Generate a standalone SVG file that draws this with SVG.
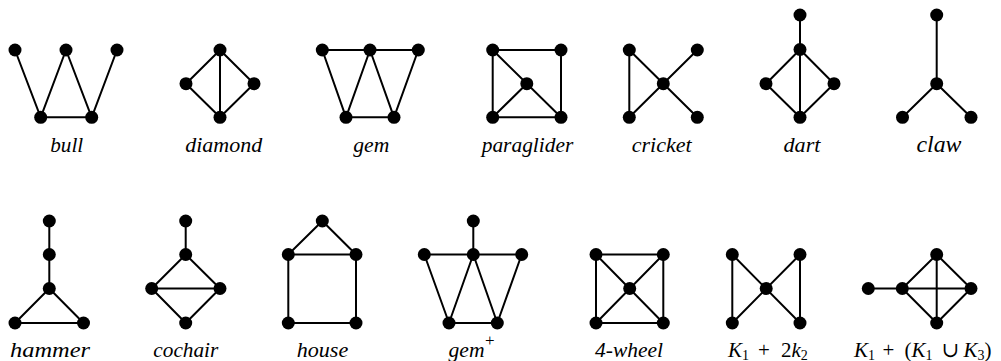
<svg xmlns="http://www.w3.org/2000/svg" width="1001" height="361" viewBox="0 0 1001 361">
<style>
.e{stroke:#000;stroke-width:2;fill:none;stroke-linecap:round;stroke-linejoin:round}
.v{fill:#000}
.lb{font-family:"Liberation Serif","DejaVu Serif",serif;font-style:italic;font-size:21px;fill:#000;text-anchor:middle}
.m{font-family:"Liberation Serif","DejaVu Serif",serif;font-size:21px;fill:#000}
.mi{font-style:italic}
.sb{font-size:14px}
</style>
<rect width="1001" height="361" fill="#fff"/>

<g id="bull">
<g class="e"><path d="M15 50L40.7 117.3L66 50L91.7 117.3L117 50M40.7 117.3H91.7"/></g>
<g class="v"><circle cx="15" cy="50" r="6.5"/><circle cx="66" cy="50" r="6.5"/><circle cx="117" cy="50" r="6.5"/><circle cx="40.7" cy="117.3" r="6.5"/><circle cx="91.7" cy="117.3" r="6.5"/></g>
<text class="lb" x="66.7" y="151.5" textLength="33" lengthAdjust="spacingAndGlyphs">bull</text>
</g>

<g id="diamond">
<g class="e"><path d="M220 50L186 83.7L220 117.3L254 83.7ZM220 50V117.3"/></g>
<g class="v"><circle cx="220" cy="50" r="6.5"/><circle cx="186" cy="83.7" r="6.5"/><circle cx="254" cy="83.7" r="6.5"/><circle cx="220" cy="117.3" r="6.5"/></g>
<text class="lb" x="223.7" y="151.5" textLength="77" lengthAdjust="spacingAndGlyphs">diamond</text>
</g>

<g id="gem">
<g class="e"><path d="M322.3 50H418.3L394 117.3H346ZM370 50L346 117.3M370 50L394 117.3"/></g>
<g class="v"><circle cx="322.3" cy="50" r="6.5"/><circle cx="370" cy="50" r="6.5"/><circle cx="418.3" cy="50" r="6.5"/><circle cx="346" cy="117.3" r="6.5"/><circle cx="394" cy="117.3" r="6.5"/></g>
<text class="lb" x="371.3" y="151.5" textLength="36" lengthAdjust="spacingAndGlyphs">gem</text>
</g>

<g id="paraglider">
<g class="e"><path d="M492.7 50H561V117.3H492.7ZM492.7 50L561 117.3M492.7 117.3L526.8 83.7"/></g>
<g class="v"><circle cx="492.7" cy="50" r="6.5"/><circle cx="561" cy="50" r="6.5"/><circle cx="526.8" cy="83.7" r="6.5"/><circle cx="492.7" cy="117.3" r="6.5"/><circle cx="561" cy="117.3" r="6.5"/></g>
<text class="lb" x="527.5" y="151.5" textLength="91.6" lengthAdjust="spacingAndGlyphs">paraglider</text>
</g>

<g id="cricket">
<g class="e"><path d="M629.3 50V117.3L697.3 50M629.3 50L697.3 117.3"/></g>
<g class="v"><circle cx="629.3" cy="50" r="6.5"/><circle cx="697.3" cy="50" r="6.5"/><circle cx="663.3" cy="83.7" r="6.5"/><circle cx="629.3" cy="117.3" r="6.5"/><circle cx="697.3" cy="117.3" r="6.5"/></g>
<text class="lb" x="661.7" y="151.5" textLength="60" lengthAdjust="spacingAndGlyphs">cricket</text>
</g>

<g id="dart">
<g class="e"><path d="M800 15V117.3M800 49.5L766 83.7L800 117.3L834 83.7Z"/></g>
<g class="v"><circle cx="800" cy="15" r="6.5"/><circle cx="800" cy="49.5" r="6.5"/><circle cx="766" cy="83.7" r="6.5"/><circle cx="834" cy="83.7" r="6.5"/><circle cx="800" cy="117.3" r="6.5"/></g>
<text class="lb" x="802" y="151.5" textLength="37" lengthAdjust="spacingAndGlyphs">dart</text>
</g>

<g id="claw">
<g class="e"><path d="M936.7 15V83.7M902.5 117.3L936.7 83.7L971 117.3"/></g>
<g class="v"><circle cx="936.7" cy="15" r="6.5"/><circle cx="936.7" cy="83.7" r="6.5"/><circle cx="902.5" cy="117.3" r="6.5"/><circle cx="971" cy="117.3" r="6.5"/></g>
<text class="lb" x="939" y="151.7" style="font-size:23px" textLength="45" lengthAdjust="spacingAndGlyphs">claw</text>
</g>

<g id="hammer">
<g class="e"><path d="M49.3 221V288.5L15 323H83.5L49.3 288.5"/></g>
<g class="v"><circle cx="49.3" cy="221" r="6.5"/><circle cx="49.3" cy="254.5" r="6.5"/><circle cx="49.3" cy="288.5" r="6.5"/><circle cx="15" cy="323" r="6.5"/><circle cx="83.5" cy="323" r="6.5"/></g>
<text class="lb" x="50" y="356.5" textLength="80" lengthAdjust="spacingAndGlyphs">hammer</text>
</g>

<g id="cochair">
<g class="e"><path d="M185.7 221V254.5L151.7 288.5L185.7 323L220 288.5L185.7 254.5M151.7 288.5H220"/></g>
<g class="v"><circle cx="185.7" cy="221" r="6.5"/><circle cx="185.7" cy="254.5" r="6.5"/><circle cx="151.7" cy="288.5" r="6.5"/><circle cx="220" cy="288.5" r="6.5"/><circle cx="185.7" cy="323" r="6.5"/></g>
<text class="lb" x="185.8" y="356.5" textLength="65" lengthAdjust="spacingAndGlyphs">cochair</text>
</g>

<g id="house">
<g class="e"><path d="M322.3 221L288.3 254.5V323H356V254.5ZM288.3 254.5H356"/></g>
<g class="v"><circle cx="322.3" cy="221" r="6.5"/><circle cx="288.3" cy="254.5" r="6.5"/><circle cx="356" cy="254.5" r="6.5"/><circle cx="288.3" cy="323" r="6.5"/><circle cx="356" cy="323" r="6.5"/></g>
<text class="lb" x="322.5" y="356.5" textLength="51.6" lengthAdjust="spacingAndGlyphs">house</text>
</g>

<g id="gemplus">
<g class="e"><path d="M473.3 221V254.5M424.3 254.5H521.7L497.3 323H449ZM473.3 254.5L449 323M473.3 254.5L497.3 323"/></g>
<g class="v"><circle cx="473.3" cy="221" r="6.5"/><circle cx="424.3" cy="254.5" r="6.5"/><circle cx="473.3" cy="254.5" r="6.5"/><circle cx="521.7" cy="254.5" r="6.5"/><circle cx="449" cy="323" r="6.5"/><circle cx="497.3" cy="323" r="6.5"/></g>
<text class="lb" x="466.5" y="356.5" textLength="36" lengthAdjust="spacingAndGlyphs">gem</text>
<text class="m" x="485" y="346" style="font-size:17px">+</text>
</g>

<g id="wheel4">
<g class="e"><path d="M596 254.5H663.3V323H596ZM596 254.5L663.3 323M663.3 254.5L596 323"/></g>
<g class="v"><circle cx="596" cy="254.5" r="6.5"/><circle cx="663.3" cy="254.5" r="6.5"/><circle cx="629.7" cy="288.5" r="6.5"/><circle cx="596" cy="323" r="6.5"/><circle cx="663.3" cy="323" r="6.5"/></g>
<text class="lb" x="629" y="356.5" textLength="68" lengthAdjust="spacingAndGlyphs">4-wheel</text>
</g>

<g id="k1-2k2">
<g class="e"><path d="M732.3 254.5V323L800 254.5V323L732.3 254.5"/></g>
<g class="v"><circle cx="732.3" cy="254.5" r="6.5"/><circle cx="800" cy="254.5" r="6.5"/><circle cx="766.2" cy="288.5" r="6.5"/><circle cx="732.3" cy="323" r="6.5"/><circle cx="800" cy="323" r="6.5"/></g>
<text class="m" y="356.5"><tspan class="mi" x="728">K</tspan><tspan class="sb" dy="3.5">1</tspan><tspan x="758" dy="-3.5">+</tspan><tspan x="781">2</tspan><tspan class="mi">k</tspan><tspan class="sb" dy="3.5">2</tspan></text>
</g>

<g id="k1-k1k3">
<g class="e"><path d="M868.3 288.5H971L936.7 254.5L902.3 288.5L936.7 323L971 288.5M936.7 254.5V323"/></g>
<g class="v"><circle cx="868.3" cy="288.5" r="6.5"/><circle cx="902.3" cy="288.5" r="6.5"/><circle cx="936.7" cy="254.5" r="6.5"/><circle cx="971" cy="288.5" r="6.5"/><circle cx="936.7" cy="323" r="6.5"/></g>
<text class="m" y="356.5"><tspan class="mi" x="854">K</tspan><tspan class="sb" dy="3.5">1</tspan><tspan x="882.5" dy="-3.5">+</tspan><tspan x="904.5">(</tspan><tspan class="mi">K</tspan><tspan class="sb" dy="3.5">1</tspan><tspan x="941.5" dy="-3.5">∪</tspan><tspan class="mi" x="963.5">K</tspan><tspan class="sb" dy="3.5">3</tspan><tspan dy="-3.5">)</tspan></text>
</g>
</svg>
